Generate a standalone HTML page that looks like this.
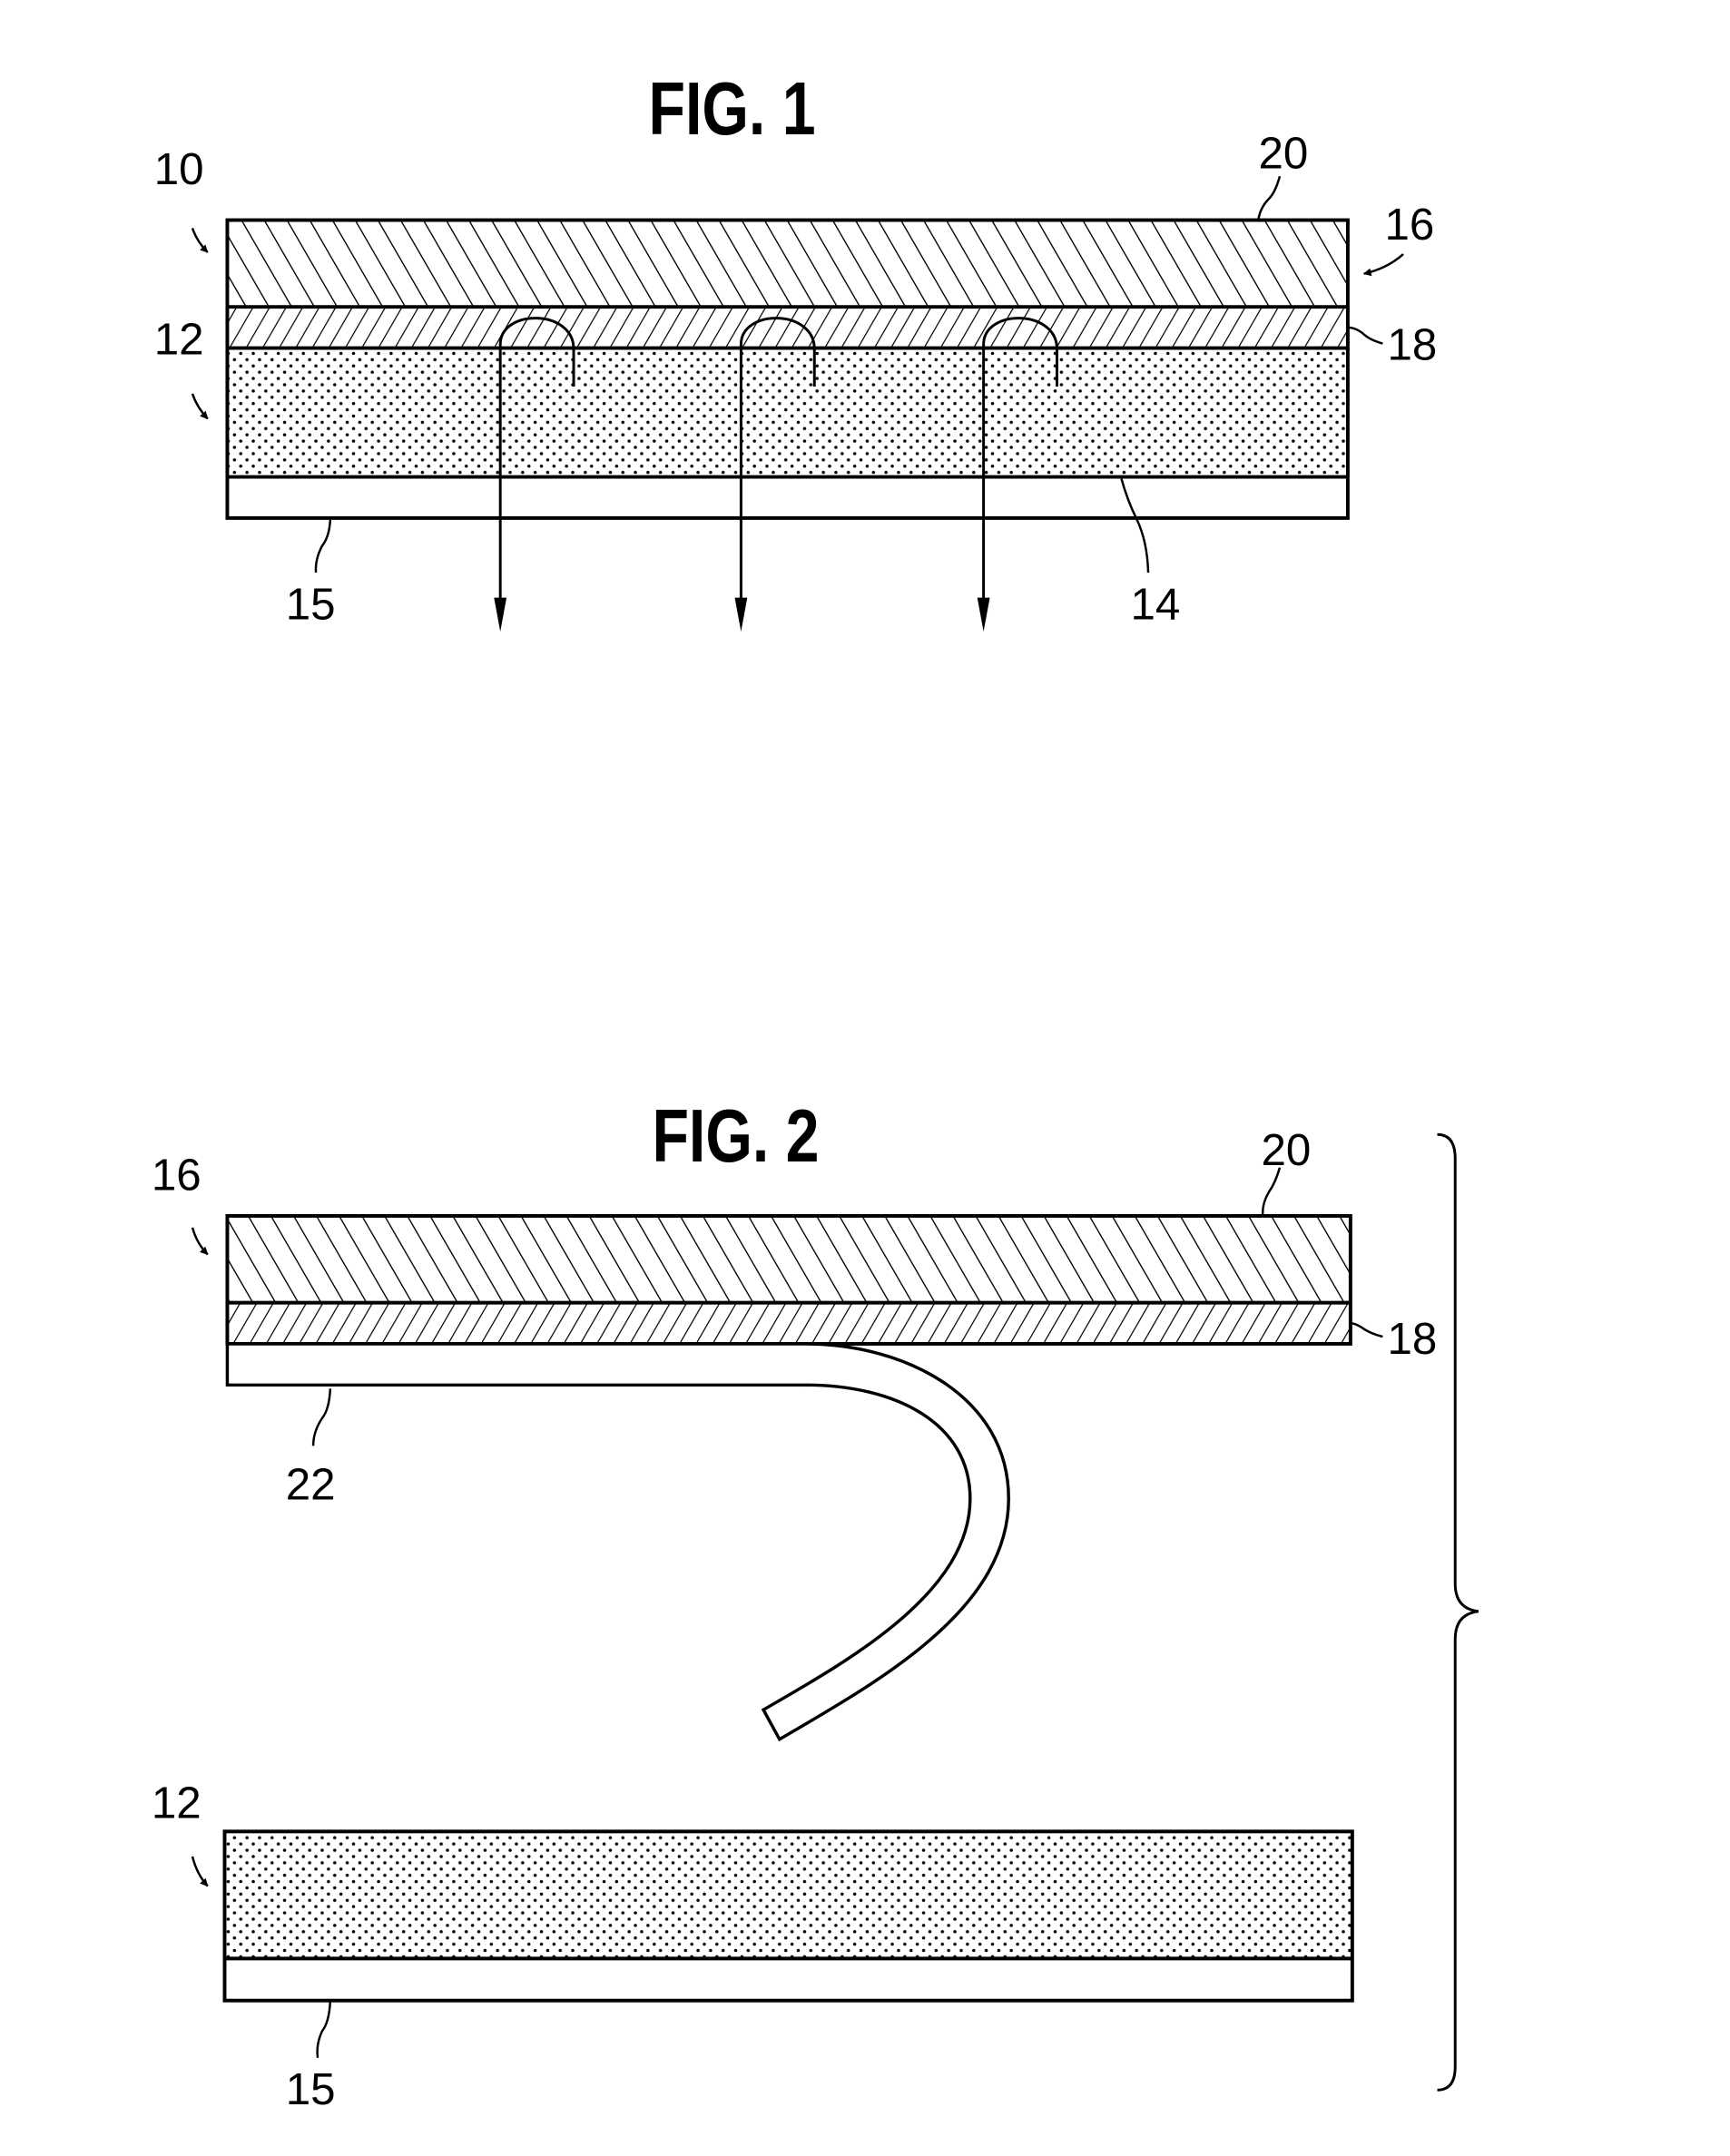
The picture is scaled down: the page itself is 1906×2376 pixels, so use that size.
<!DOCTYPE html>
<html><head><meta charset="utf-8"><style>
html,body{margin:0;padding:0;background:#fff}
svg{display:block}
text{font-family:"Liberation Sans",sans-serif;fill:#000}
.l{font-size:50px}
.t{font-size:84px;font-weight:bold}
</style></head><body>
<svg width="1906" height="2376" viewBox="0 0 1906 2376" xmlns="http://www.w3.org/2000/svg">
<defs>
<pattern id="h20" width="22" height="22" patternUnits="userSpaceOnUse" patternTransform="rotate(-30)">
<line x1="0" y1="0" x2="0" y2="22" stroke="#000" stroke-width="2.8"/></pattern>
<pattern id="h18" width="16" height="16" patternUnits="userSpaceOnUse" patternTransform="rotate(30)">
<line x1="0" y1="0" x2="0" y2="16" stroke="#000" stroke-width="2.5"/></pattern>
<pattern id="dots" width="14" height="14" patternUnits="userSpaceOnUse">
<circle cx="3" cy="3" r="1.8" fill="#000"/><circle cx="10" cy="10" r="1.8" fill="#000"/></pattern>
<marker id="ah" viewBox="0 0 10 10" refX="9" refY="5" markerWidth="9" markerHeight="9" orient="auto-start-reverse" markerUnits="userSpaceOnUse">
<path d="M0 0 L10 5 L0 10 Z" fill="#000"/></marker>
</defs>
<g transform="scale(0.986)">
<!-- FIG 1 -->
<text class="t" x="818" y="150" text-anchor="middle" transform="translate(818 0) scale(0.8 1) translate(-818 0)">FIG. 1</text>
<rect x="254" y="246" width="1252" height="97" fill="url(#h20)"/>
<rect x="254" y="343" width="1252" height="46" fill="url(#h18)"/>
<rect x="254" y="389" width="1252" height="144" fill="url(#dots)"/>
<g fill="none" stroke="#000" stroke-width="4">
<rect x="254" y="246" width="1252" height="333"/>
<line x1="254" y1="343" x2="1506" y2="343"/>
<line x1="254" y1="389" x2="1506" y2="389"/>
<line x1="254" y1="533" x2="1506" y2="533"/>
</g>
<g fill="none" stroke="#000" stroke-width="3">
<path d="M559 690 L559 385 C559 345 641 345 641 390 L641 432"/>
<path d="M828 690 L828 385 C828 345 910 345 910 390 L910 432"/>
<path d="M1099 690 L1099 385 C1099 345 1181 345 1181 390 L1181 432"/>
</g>
<g fill="#000">
<path d="M552 668 L566 668 L559 706 Z"/>
<path d="M821 668 L835 668 L828 706 Z"/>
<path d="M1092 668 L1106 668 L1099 706 Z"/>
</g>
<g fill="none" stroke="#000" stroke-width="2.5">
<path d="M215 255 Q220 270 232 282" marker-end="url(#ah)"/>
<path d="M215 440 Q220 455 232 468" marker-end="url(#ah)"/>
<path d="M1568 284 Q1550 300 1524 306" marker-end="url(#ah)"/>
<path d="M1430 197 Q1425 215 1418 222 Q1408 232 1406 246"/>
<path d="M1545 384 Q1530 380 1522 372 Q1514 366 1506 366"/>
<path d="M369 581 Q368 600 360 610 Q352 625 353 640"/>
<path d="M1253 535 Q1260 560 1270 580 Q1282 605 1283 640"/>
</g>
<g class="l">
<text x="200" y="206" text-anchor="middle">10</text>
<text x="200" y="396" text-anchor="middle">12</text>
<text x="1434" y="188" text-anchor="middle">20</text>
<text x="1575" y="268" text-anchor="middle">16</text>
<text x="1578" y="402" text-anchor="middle">18</text>
<text x="347" y="692" text-anchor="middle">15</text>
<text x="1291" y="692" text-anchor="middle">14</text>
</g>

<!-- FIG 2 -->
<text class="t" x="822" y="1298" text-anchor="middle" transform="translate(822 0) scale(0.8 1) translate(-822 0)">FIG. 2</text>
<rect x="254" y="1359" width="1255" height="97" fill="url(#h20)"/>
<rect x="254" y="1456" width="1255" height="46" fill="url(#h18)"/>
<g fill="none" stroke="#000" stroke-width="4">
<rect x="254" y="1359" width="1255" height="143"/>
<line x1="254" y1="1456" x2="1509" y2="1456"/>
</g>
<path d="M254 1502 L900 1502 C1010 1502 1127 1560 1127 1675 C1127 1800 980 1880 871 1944 L853 1911 C950 1855 1084 1780 1084 1675 C1084 1590 1000 1548 900 1548 L254 1548 Z" fill="#fff" stroke="#000" stroke-width="3.5"/>
<rect x="251" y="2047" width="1260" height="142" fill="url(#dots)"/>
<g fill="none" stroke="#000" stroke-width="4">
<rect x="251" y="2047" width="1260" height="189"/>
<line x1="251" y1="2189" x2="1511" y2="2189"/>
</g>
<path d="M1606 1268 Q1626 1268 1626 1295 L1626 1770 Q1626 1798 1652 1801 Q1626 1804 1626 1832 L1626 2310 Q1626 2336 1606 2336" fill="none" stroke="#000" stroke-width="3"/>
<g fill="none" stroke="#000" stroke-width="2.5">
<path d="M215 1372 Q220 1390 232 1402" marker-end="url(#ah)"/>
<path d="M215 2075 Q220 2095 232 2108" marker-end="url(#ah)"/>
<path d="M1430 1305 Q1425 1322 1418 1332 Q1410 1345 1411 1359"/>
<path d="M1545 1494 Q1530 1490 1522 1484 Q1514 1479 1509 1479"/>
<path d="M369 1552 Q368 1575 360 1585 Q350 1600 350 1616"/>
<path d="M369 2236 Q368 2260 360 2270 Q353 2285 355 2300"/>
</g>
<g class="l">
<text x="197" y="1330" text-anchor="middle">16</text>
<text x="1437" y="1302" text-anchor="middle">20</text>
<text x="1578" y="1513" text-anchor="middle">18</text>
<text x="347" y="1676" text-anchor="middle">22</text>
<text x="197" y="2032" text-anchor="middle">12</text>
<text x="347" y="2352" text-anchor="middle">15</text>
</g>
</g>
</svg>
</body></html>
